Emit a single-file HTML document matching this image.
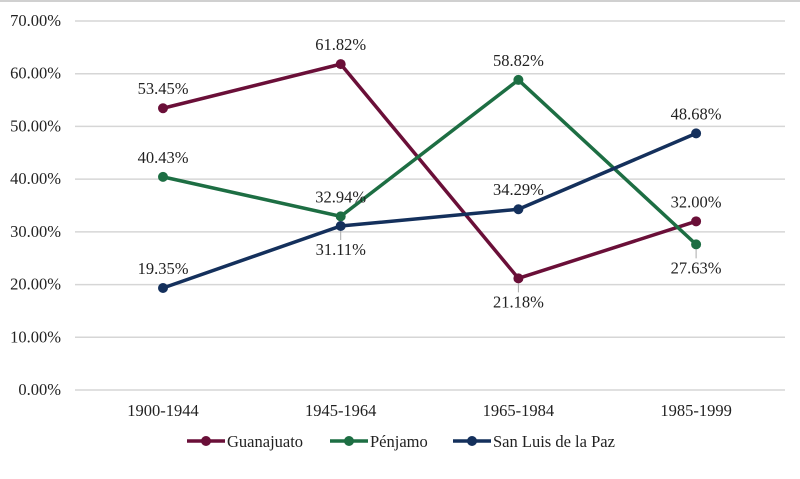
<!DOCTYPE html>
<html><head><meta charset="utf-8"><style>
body{margin:0;background:#fff;}
svg text{font-family:"Liberation Serif",serif;font-size:16.5px;fill:#222;}
</style></head><body>
<svg id="chart" width="800" height="474" viewBox="0 0 800 474" xmlns="http://www.w3.org/2000/svg">
<rect x="0" y="0" width="800" height="474" fill="#fff"/>
<rect x="0" y="0" width="800" height="2" fill="#d0d0d0"/>
<g id="grid"></g><g id="xlabels"></g><g id="series"></g><g id="legend"></g>
</svg>
<script>
const categories=["1900-1944","1945-1964","1965-1984","1985-1999"];
const guanajuato=[53.45,61.82,21.18,32.00];
const penjamo=[40.43,32.94,58.82,27.63];
const sanLuis=[19.35,31.11,34.29,48.68];
const yTicks=[0,10,20,30,40,50,60,70];
const seriesNames=["Guanajuato","Pénjamo","San Luis de la Paz"];
const labelPos=[["a","a","b","a"],["a","a","a","b"],["a","b","a","a"]];
const colors=["#6a0f38","#1d6e43","#14305c"];
const NS="http://www.w3.org/2000/svg";
function y(v){return 390-v*(369/70);}
function x(i){return 163+i*177.7;}
function mk(t,a,p){const e=document.createElementNS(NS,t);for(const k in a)e.setAttribute(k,a[k]);p.appendChild(e);return e;}
const grid=document.getElementById('grid');
yTicks.forEach(t=>{
 const l=mk('line',{x1:75,x2:785,y1:y(t),y2:y(t),stroke:'#d6d6d6','stroke-width':1.5},grid);
 
 
 const tx=mk('text',{x:61,y:y(t)+5,'text-anchor':'end'},grid);tx.textContent=t.toFixed(2)+'%';
 
 
});
const xl=document.getElementById('xlabels');
categories.forEach((c,i)=>{const t=mk('text',{x:x(i),y:416,'text-anchor':'middle'},xl);t.textContent=c;
 
 });
const sg=document.getElementById('series');
[guanajuato,penjamo,sanLuis].forEach((d,s)=>{
 const g=mk('g',{},sg);
 
 
 mk('polyline',{points:d.map((v,i)=>x(i)+','+y(v)).join(' '),fill:'none',stroke:colors[s],'stroke-width':3.5},g);
 d.forEach((v,i)=>{
  const c=mk('circle',{cx:x(i),cy:y(v),r:5,fill:colors[s]},g);
  
  
  const below=labelPos[s][i]==='b';
  if(below) mk('line',{x1:x(i),x2:x(i),y1:y(v)+5,y2:y(v)+14,stroke:'#aaa'},g);
  const t=mk('text',{x:x(i),y:below?y(v)+29:y(v)-14,'text-anchor':'middle'},g);
  t.textContent=v.toFixed(2)+'%';
  
  
 });
});
const lg=document.getElementById('legend');
const lx=[187,330,453];
seriesNames.forEach((n,s)=>{
 const g=mk('g',{},lg);
 
 
 mk('line',{x1:lx[s],x2:lx[s]+38,y1:441,y2:441,stroke:colors[s],'stroke-width':3.5},g);
 mk('circle',{cx:lx[s]+19,cy:441,r:5,fill:colors[s]},g);
 const t=mk('text',{x:lx[s]+40,y:447},g);t.textContent=n;
});
</script>
</body></html>
